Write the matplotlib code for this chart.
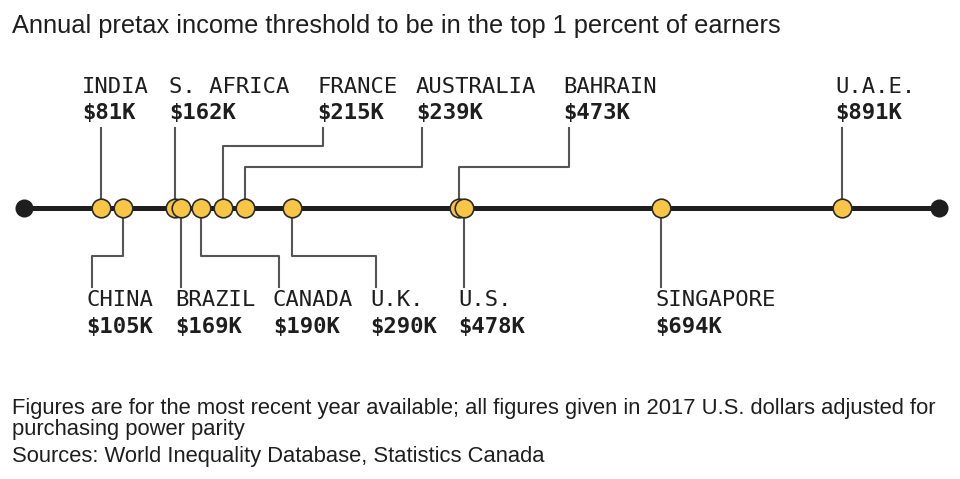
import matplotlib
matplotlib.use("Agg")
import matplotlib.pyplot as plt

# data: top 1% pretax income threshold, thousands of 2017 USD (PPP)
countries = ["INDIA", "CHINA", "S. AFRICA", "BRAZIL", "CANADA", "FRANCE",
             "AUSTRALIA", "U.K.", "BAHRAIN", "U.S.", "SINGAPORE", "U.A.E."]
values = [81, 105, 162, 169, 190, 215, 239, 290, 473, 478, 694, 891]
sides = ["top", "bottom", "top", "bottom", "bottom", "top",
         "top", "bottom", "top", "bottom", "bottom", "top"]
scale_range = [-3, 997]

# layout (pixels): where each leader meets its label, elbow height, text nudge
label_px = [None, 92, None, None, 279, 323, 422, 376, 569, None, None, None]
elbow_px = [None, 256, None, None, 256, 146, 167, 256, 167, None, None, None]
text_nudge = [-19, -6, -6, -6, -6, -6, -6, -6, -6, -6, -6, -6]

W, H = 960, 479
fig = plt.figure(figsize=(W / 100, H / 100), dpi=100)
ax = fig.add_axes([0, 0, 1, 1])
px_per_k = 0.9144
x0 = -26.9 / px_per_k
ax.set_xlim(x0, x0 + W / px_per_k)
ax.set_ylim(H, 0)
ax.axis("off")

def px_to_k(px):
    return x0 + px / px_per_k

axis_y = 208
ink = "#1e1e1e"
lead = "#555555"
yellow = "#F8C546"

ax.plot(scale_range, [axis_y, axis_y], color=ink, lw=3.6, zorder=2, solid_capstyle="butt")
ax.scatter(scale_range, [axis_y, axis_y], s=13 ** 2, color=ink, zorder=3, linewidths=0)

mono = "DejaVu Sans Mono"
for i, (name, v, side) in enumerate(zip(countries, values, sides)):
    lx = v if label_px[i] is None else px_to_k(label_px[i])
    if side == "top":
        end_y = 128
        if label_px[i] is None:
            ax.plot([v, v], [end_y, axis_y], color=lead, lw=1.5, zorder=1)
        else:
            ax.plot([lx, lx, v, v], [end_y, elbow_px[i], elbow_px[i], axis_y],
                    color=lead, lw=1.5, zorder=1)
        name_y, val_y = 93, 119
    else:
        end_y = 287
        if label_px[i] is None:
            ax.plot([v, v], [axis_y, end_y], color=lead, lw=1.5, zorder=1)
        else:
            ax.plot([v, v, lx, lx], [axis_y, elbow_px[i], elbow_px[i], end_y],
                    color=lead, lw=1.5, zorder=1)
        name_y, val_y = 306, 333
    tx = lx + text_nudge[i] / px_per_k
    ax.text(tx, name_y, name, family=mono, fontsize=16, color=ink,
            ha="left", va="baseline")
    ax.text(tx, val_y, "$%dK" % v, family=mono, fontsize=16, color=ink,
            fontweight="bold", ha="left", va="baseline")

# dots, ascending so larger values sit on top
ax.scatter(values, [axis_y] * len(values), s=13.4 ** 2, color=yellow,
           edgecolors="#2a2a2a", linewidths=1.2, zorder=4)

sans = "Liberation Sans"
fig.text(12 / W, 1 - 33 / H, "Annual pretax income threshold to be in the top 1 percent of earners",
         family=sans, fontsize=18.3, color=ink, va="baseline")
fig.text(12 / W, 1 - 414 / H,
         "Figures are for the most recent year available; all figures given in 2017 U.S. dollars adjusted for",
         family=sans, fontsize=15.8, color=ink, va="baseline")
fig.text(12 / W, 1 - 435 / H, "purchasing power parity",
         family=sans, fontsize=15.8, color=ink, va="baseline")
fig.text(12 / W, 1 - 462 / H, "Sources: World Inequality Database, Statistics Canada",
         family=sans, fontsize=15.8, color=ink, va="baseline")

fig.savefig("out.png", dpi=100, facecolor="white")
